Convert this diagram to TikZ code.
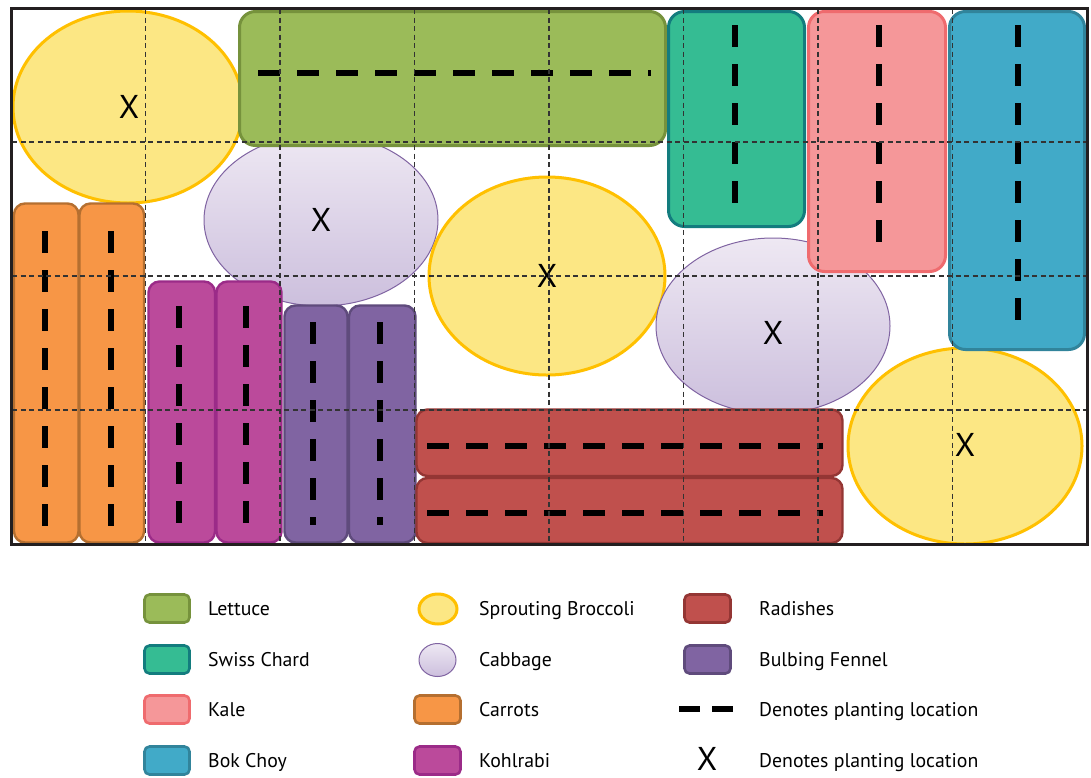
\documentclass[tikz,border=0pt]{standalone}
\usepackage{fontspec}
\setmainfont{PT Sans}
\definecolor{letF}{HTML}{9BBB59}\definecolor{letD}{HTML}{76923C}
\definecolor{chF}{HTML}{35BC93}\definecolor{chD}{HTML}{137C7E}
\definecolor{kaF}{HTML}{F59799}\definecolor{kaD}{HTML}{EF6B6E}
\definecolor{boF}{HTML}{41AAC8}\definecolor{boD}{HTML}{31849B}
\definecolor{caF}{HTML}{F79646}\definecolor{caD}{HTML}{B56F30}
\definecolor{koF}{HTML}{BB4A9B}\definecolor{koD}{HTML}{9B2B88}
\definecolor{feF}{HTML}{8064A2}\definecolor{feD}{HTML}{5F4B7C}
\definecolor{raF}{HTML}{C0504D}\definecolor{raD}{HTML}{943634}
\definecolor{brF}{HTML}{FCE784}\definecolor{brD}{HTML}{FFC000}
\definecolor{cbT}{HTML}{EEE8F3}\definecolor{cbB}{HTML}{CCBFDD}\definecolor{cbD}{HTML}{8064A2}
\definecolor{frame}{HTML}{231F20}\definecolor{gridc}{HTML}{333333}
\begin{document}
\begin{tikzpicture}[x=1pt,y=-1pt,
  bed/.style={line width=3pt, rounded corners=16pt},
  narrowbed/.style={line width=2.4pt, rounded corners=11pt},
  sw/.style={line width=2.6pt, rounded corners=5pt},
  plant/.style={line width=5.5pt, dash pattern=on 22pt off 17pt},
  broc/.style={fill=brF, draw=brD, line width=3pt},
  cabb/.style={top color=cbT, bottom color=cbB, draw=cbD, line width=1pt},
  gridline/.style={draw=gridc, line width=1.3pt, dash pattern=on 5pt off 3.5pt},
  xmark/.style={font=\fontsize{33}{36}\selectfont, inner sep=0pt},
  lab/.style={font=\fontsize{19.8}{22}\selectfont, anchor=base west, inner sep=0pt}
]
\useasboundingbox (0,0) rectangle (1091,777);
\fill[white] (0,0) rectangle (1091,777);

% ellipses
\path[broc] (128,107) ellipse [x radius=115, y radius=96];
\path[cabb] (321,220) ellipse [x radius=117, y radius=86];
\path[broc] (547,276) ellipse [x radius=118, y radius=99];
\path[cabb] (773,326) ellipse [x radius=117, y radius=88];
\path[broc] (965,446) ellipse [x radius=117, y radius=98];

% beds
\draw[bed, fill=letF, draw=letD] (239.5,11.5) rectangle (665.5,145.5);
\draw[bed, fill=chF, draw=chD] (668.5,11.5) rectangle (804.5,226.5);
\draw[bed, fill=kaF, draw=kaD] (808.5,11.5) rectangle (945.5,271.5);
\draw[bed, fill=boF, draw=boD] (949.5,11.5) rectangle (1084.5,349.5);
\draw[narrowbed, fill=caF, draw=caD] (14,203.5) rectangle (78.5,542.5);
\draw[narrowbed, fill=caF, draw=caD] (79.5,203.5) rectangle (144,542.5);
\draw[narrowbed, fill=koF, draw=koD] (148.5,281.5) rectangle (215,542.5);
\draw[narrowbed, fill=koF, draw=koD] (216.5,281.5) rectangle (281.5,542.5);
\draw[narrowbed, fill=feF, draw=feD] (284.5,305.5) rectangle (347.5,542.5);
\draw[narrowbed, fill=feF, draw=feD] (349,305.5) rectangle (415.5,542.5);
\draw[narrowbed, fill=raF, draw=raD] (416.5,409.5) rectangle (842.5,476);
\draw[narrowbed, fill=raF, draw=raD] (416.5,478) rectangle (842.5,543);

% planting lines
\draw[plant] (258,73) -- (651,73);
\draw[plant] (735,25) -- (735,205);
\draw[plant] (879,25) -- (879,244);
\draw[plant] (1018,25) -- (1018,323);
\draw[plant] (45,231) -- (45,526);
\draw[plant] (111,231) -- (111,526);
\draw[plant] (179,306) -- (179,524);
\draw[plant] (246,306) -- (246,524);
\draw[plant] (313,322) -- (313,525);
\draw[plant] (380,322) -- (380,525);
\draw[plant] (427,446) -- (823,446);
\draw[plant] (427,513) -- (823,513);

% X marks
\node[xmark] (x1) at (129,107) {X};
\node[xmark] (x2) at (321,220) {X};
\node[xmark] (x3) at (547,276) {X};
\node[xmark] (x4) at (773,333) {X};
\node[xmark] (x5) at (965,445) {X};

% grid
\foreach \gx in {145.5,280,414.5,549,683.5,818,952.5}
  \draw[gridline] (\gx,9) -- (\gx,543);
\foreach \gy in {142,276,410}
  \draw[gridline] (12,\gy) -- (1086,\gy);

% frame
\draw[draw=frame, line width=3pt] (11,8) rectangle (1087,544);

% legend column 1
\draw[sw, fill=letF, draw=letD] (144.5,594.5) rectangle (189.5,622.5);
\draw[sw, fill=chF, draw=chD] (144.5,645.5) rectangle (189.5,673.5);
\draw[sw, fill=kaF, draw=kaD] (144.5,695.5) rectangle (189.5,723.5);
\draw[sw, fill=boF, draw=boD] (144.5,746.5) rectangle (189.5,774.5);
\node[lab] (l1) at (208,615) {Lettuce};
\node[lab] (l2) at (208,666) {Swiss Chard};
\node[lab] (l3) at (208,716) {Kale};
\node[lab] (l4) at (208,767) {Bok Choy};

% legend column 2
\path[broc] (438,609) ellipse [x radius=19, y radius=15];
\path[cabb] (437.5,660) ellipse [x radius=18.5, y radius=16.5];
\draw[sw, fill=caF, draw=caD] (414.5,695.5) rectangle (460.5,723.5);
\draw[sw, fill=koF, draw=koD] (414.5,746.5) rectangle (460.5,774.5);
\node[lab] (l5) at (479,615) {Sprouting Broccoli};
\node[lab] (l6) at (479,666) {Cabbage};
\node[lab] (l7) at (479,716) {Carrots};
\node[lab] (l8) at (479,767) {Kohlrabi};

% legend column 3
\draw[sw, fill=raF, draw=raD] (684.5,594.5) rectangle (730.5,622.5);
\draw[sw, fill=feF, draw=feD] (684.5,645.5) rectangle (730.5,673.5);
\draw[line width=5.5pt, dash pattern=on 21pt off 12pt] (679,709) -- (734,709);
\node[xmark] (lx) at (707,759) {X};
\node[lab] (l9) at (759,615) {Radishes};
\node[lab] (l10) at (759,666) {Bulbing Fennel};
\node[lab] (l11) at (759,716) {Denotes planting location};
\node[lab] (l12) at (759,767) {Denotes planting location};
\end{tikzpicture}
\end{document}
